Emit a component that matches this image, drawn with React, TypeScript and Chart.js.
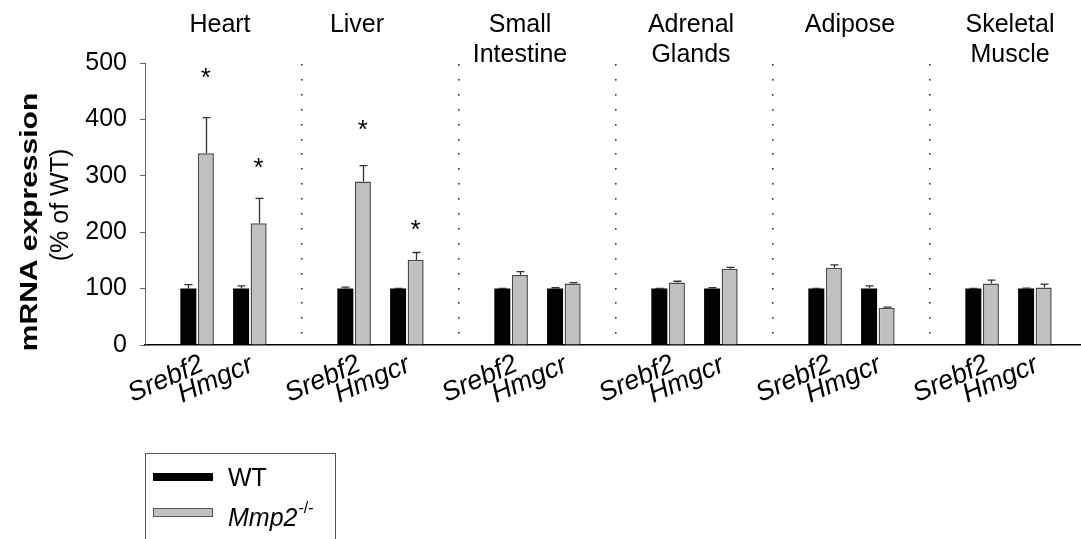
import React, { useEffect, useRef } from "react";
import { Chart, registerables } from "chart.js";

Chart.register(...registerables);

const FONT = '"Liberation Sans", Arial, Helvetica, sans-serif';

// ---- data ----
const tissues = ["Heart", "Liver", "Small Intestine", "Adrenal Glands", "Adipose", "Skeletal Muscle"];
const tissueTitleLines = [["Heart"], ["Liver"], ["Small", "Intestine"], ["Adrenal", "Glands"], ["Adipose"], ["Skeletal", "Muscle"]];
const genes = ["Srebf2", "Hmgcr"];
const seriesNames = ["WT", "Mmp2-/-"];

const wtSrebf2 = [100, 100, 100, 100, 100, 100];
const wtSrebf2Err = [7, 2.5, 0.5, 0.5, 0.5, 0.5];
const mmpSrebf2 = [340, 290, 124, 111, 137, 109];
const mmpSrebf2Err = [63, 28, 6, 2, 5, 6];
const wtHmgcr = [100, 100, 100, 100, 100, 100];
const wtHmgcrErr = [5, 0.5, 1.5, 1.5, 5, 1];
const mmpHmgcr = [216, 151, 109, 135, 66, 102];
const mmpHmgcrErr = [44, 13, 1.5, 2.5, 1, 6];
const spacer = [0, 0, 0, 0, 0, 0];

// asterisk heights (in % of WT units) above the Mmp2-/- bars
const starSrebf2 = [482, 390, null, null, null, null];
const starHmgcr = [323, 213, null, null, null, null];

const yTicks = [0, 100, 200, 300, 400, 500];

// ---- layout (pixels) ----
const titleOffsets = [-3.5, -23.5, -17.5, -3.5, -1.5, 1.5];
const geneLabelOffsets = [
  { dx: 8, dy: 25 },
  { dx: 5, dy: 25.5 },
];
const geneLabelAngle = 24;

const customPlugin = {
  id: "custom",
  beforeDatasetsDraw(chart: any) {
    const { ctx, chartArea, scales } = chart;
    const x = scales.x;
    ctx.save();
    ctx.fillStyle = "#333";
    for (let k = 1; k < tissues.length; k++) {
      const px = Math.round((x.getPixelForValue(k - 1) + x.getPixelForValue(k)) / 2);
      for (let i = 0; i < 19; i++) {
        const py = Math.round(chartArea.top + 2 + i * 14.9);
        ctx.fillRect(px - 1, py - 1, 1.6, 1.6);
      }
    }
    ctx.restore();
  },
  afterDatasetsDraw(chart: any) {
    const { ctx, chartArea, scales } = chart;
    const x = scales.x;
    const y = scales.y;
    ctx.save();

    // error bars
    const errSets: [number, number[], number[]][] = [
      [0, wtSrebf2, wtSrebf2Err],
      [1, mmpSrebf2, mmpSrebf2Err],
      [3, wtHmgcr, wtHmgcrErr],
      [4, mmpHmgcr, mmpHmgcrErr],
    ];
    ctx.strokeStyle = "#333";
    ctx.lineWidth = 1.3;
    for (const [d, vals, errs] of errSets) {
      const meta = chart.getDatasetMeta(d);
      meta.data.forEach((el: any, i: number) => {
        const yv = y.getPixelForValue(vals[i]);
        const yt = y.getPixelForValue(vals[i] + errs[i]);
        const cx = Math.round(el.x) + 0.5;
        ctx.beginPath();
        ctx.moveTo(cx, yv);
        ctx.lineTo(cx, yt);
        ctx.moveTo(cx - 4, yt);
        ctx.lineTo(cx + 4, yt);
        ctx.stroke();
      });
    }

    // asterisks
    ctx.fillStyle = "#000";
    ctx.font = `26px ${FONT}`;
    ctx.textAlign = "center";
    ctx.textBaseline = "alphabetic";
    const starSets: [number, (number | null)[]][] = [
      [1, starSrebf2],
      [4, starHmgcr],
    ];
    const m = ctx.measureText("*");
    const off = (m.actualBoundingBoxAscent - m.actualBoundingBoxDescent) / 2;
    for (const [d, stars] of starSets) {
      const meta = chart.getDatasetMeta(d);
      stars.forEach((s, i) => {
        if (s == null) return;
        ctx.fillText("*", meta.data[i].x, y.getPixelForValue(s) + off);
      });
    }

    // gene labels (rotated, italic)
    const axisY = chartArea.bottom;
    ctx.font = `italic 27px ${FONT}`;
    ctx.textAlign = "right";
    ctx.textBaseline = "alphabetic";
    const genePairs = [
      [0, 1],
      [3, 4],
    ];
    for (let i = 0; i < tissues.length; i++) {
      genePairs.forEach((pair, j) => {
        const a = chart.getDatasetMeta(pair[0]).data[i];
        const b = chart.getDatasetMeta(pair[1]).data[i];
        const gx = (a.x + b.x) / 2;
        ctx.save();
        ctx.translate(gx + geneLabelOffsets[j].dx, axisY + geneLabelOffsets[j].dy);
        ctx.rotate((-geneLabelAngle * Math.PI) / 180);
        ctx.fillText(genes[j], 0, 0);
        ctx.restore();
      });
    }

    // tissue titles
    ctx.font = `25px ${FONT}`;
    ctx.textAlign = "center";
    ctx.textBaseline = "alphabetic";
    tissueTitleLines.forEach((lines, i) => {
      const cx = x.getPixelForValue(i) + titleOffsets[i];
      lines.forEach((ln, k) => ctx.fillText(ln, cx, 32 + k * 30));
    });

    // y axis title
    const midY = (chartArea.top + chartArea.bottom) / 2;
    ctx.save();
    ctx.translate(37, midY + 18);
    ctx.rotate(-Math.PI / 2);
    ctx.scale(1.25, 1);
    ctx.font = `bold 24px ${FONT}`;
    ctx.textAlign = "center";
    ctx.fillText("mRNA expression", 0, 0);
    ctx.restore();
    ctx.save();
    ctx.translate(68, midY + 1);
    ctx.rotate(-Math.PI / 2);
    ctx.font = `25px ${FONT}`;
    ctx.textAlign = "center";
    ctx.fillText("(% of WT)", 0, 0);
    ctx.restore();

    // legend
    ctx.strokeStyle = "#555";
    ctx.lineWidth = 1;
    ctx.strokeRect(145.5, 453.5, 190, 120);
    ctx.fillStyle = "#000";
    ctx.fillRect(153, 473, 60, 8);
    ctx.fillStyle = "#c0c0c0";
    ctx.fillRect(153.5, 508.5, 59, 8);
    ctx.strokeStyle = "#555";
    ctx.strokeRect(153.5, 508.5, 59, 8);
    ctx.fillStyle = "#000";
    ctx.textAlign = "left";
    ctx.font = `25px ${FONT}`;
    ctx.fillText(seriesNames[0], 228, 486);
    ctx.font = `italic 25px ${FONT}`;
    ctx.fillText("Mmp2", 228, 526);
    const w = ctx.measureText("Mmp2").width;
    ctx.font = `16px ${FONT}`;
    ctx.fillText("-/-", 228 + w + 1, 513);

    ctx.restore();
  },
};

export default function App() {
  const ref = useRef<HTMLCanvasElement>(null);
  useEffect(() => {
    if (!ref.current) return;
    const grey = "#c0c0c0";
    const chart = new Chart(ref.current, {
      type: "bar",
      data: {
        labels: tissues,
        datasets: [
          { label: "WT Srebf2", data: wtSrebf2, backgroundColor: "#000", borderWidth: 0 },
          { label: "Mmp2 Srebf2", data: mmpSrebf2, backgroundColor: grey, borderColor: "#4a4a4a", borderWidth: 1.5 },
          { label: "", data: spacer, backgroundColor: "rgba(0,0,0,0)", borderWidth: 0 },
          { label: "WT Hmgcr", data: wtHmgcr, backgroundColor: "#000", borderWidth: 0 },
          { label: "Mmp2 Hmgcr", data: mmpHmgcr, backgroundColor: grey, borderColor: "#4a4a4a", borderWidth: 1.5 },
        ],
      },
      options: {
        responsive: false,
        animation: false,
        categoryPercentage: 0.56,
        barPercentage: 0.91,
        layout: { padding: { left: 0, top: 63, right: 13, bottom: 194 } },
        plugins: { legend: { display: false }, tooltip: { enabled: false }, title: { display: false } },
        scales: {
          x: {
            type: "category",
            grid: { display: false },
            border: { display: true, color: "#000", width: 1.6 },
            ticks: { display: false },
            afterFit: (s: any) => {
              s.height = 0;
            },
          },
          y: {
            min: 0,
            max: 500,
            afterBuildTicks: (s: any) => {
              s.ticks = yTicks.map((v) => ({ value: v }));
            },
            grid: { drawOnChartArea: false, drawTicks: true, tickLength: 5, color: "#666" },
            border: { display: true, color: "#666", width: 1 },
            ticks: { color: "#000", font: { family: FONT, size: 25 }, padding: 13 },
            afterFit: (s: any) => {
              s.width = 145;
            },
          },
        },
      },
      plugins: [customPlugin],
    } as any);
    return () => chart.destroy();
  }, []);
  return (
    <div style={{ position: "absolute", left: 0, top: 0, width: 1081, height: 539, overflow: "hidden", background: "#fff" }}>
      <canvas ref={ref} width={1100} height={539} style={{ display: "block", width: 1100, height: 539 }} />
    </div>
  );
}
